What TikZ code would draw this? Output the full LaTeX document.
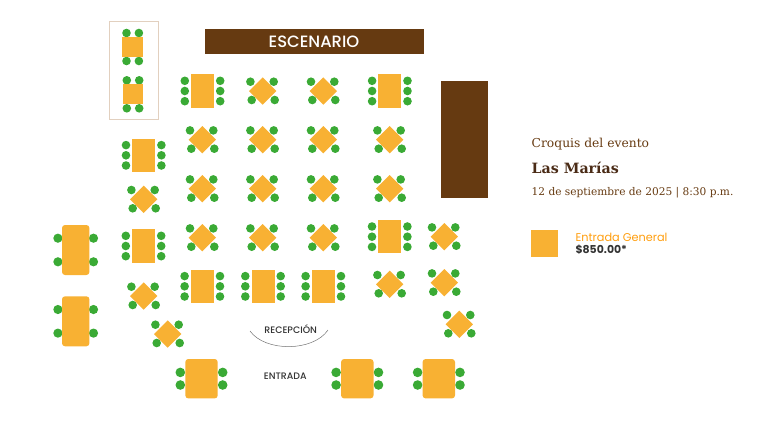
\documentclass[tikz,border=0pt]{standalone}
\usepackage{fontspec}
\setmainfont{DejaVu Serif}
\setsansfont{Poppins}
\newfontfamily\poppinsmedia{Poppins Medium}
\definecolor{cafe}{HTML}{663A11}
\definecolor{cafeoscuro}{HTML}{4A2B16}
\definecolor{mesacolor}{HTML}{F8B133}
\definecolor{sillacolor}{HTML}{3AAA35}
\definecolor{marco}{HTML}{E2D0BF}
\definecolor{naranja}{HTML}{FF9E0F}
\tikzset{
  mesa/.style={fill=mesacolor},
  silla/.style={fill=sillacolor},
  escenario/.style={fill=cafe},
  etiqueta/.style={font=\poppinsmedia\fontsize{9.4}{9.4}\selectfont, text=black!80},
  infotexto/.style={anchor=west, inner sep=0pt},
  pics/rombo/.style={code={
    \fill[silla] (-12.3,-9.3) circle (4.3);
    \fill[silla] (11,-9.3) circle (4.3);
    \fill[silla] (-11,9) circle (4.3);
    \fill[silla] (12,9) circle (4.3);
    \fill[mesa] (0,-13.7) -- (13.7,0) -- (0,13.7) -- (-13.7,0) -- cycle;
  }},
  pics/cuadro/.style={code={
    \fill[silla] (-6.2,-14) circle (4.3);
    \fill[silla] (6.2,-14) circle (4.3);
    \fill[silla] (-6.2,14) circle (4.3);
    \fill[silla] (6.2,14) circle (4.3);
    \fill[mesa] (-10.4,-10) rectangle (10.4,10);
  }},
  pics/seis/.style={code={
    \fill[silla] (-17.7,-10.2) circle (4.3);
    \fill[silla] (-17.7,0) circle (4.3);
    \fill[silla] (-17.7,10.2) circle (4.3);
    \fill[silla] (17.7,-10.2) circle (4.3);
    \fill[silla] (17.7,0) circle (4.3);
    \fill[silla] (17.7,10.2) circle (4.3);
    \fill[mesa] (-11.5,-16.7) rectangle (11.5,16.7);
  }},
  pics/larga/.style={code={
    \fill[silla] (-17.8,-11.8) circle (4.6);
    \fill[silla] (-17.8,11.8) circle (4.6);
    \fill[silla] (17.8,-11.8) circle (4.6);
    \fill[silla] (17.8,11.8) circle (4.6);
    \fill[mesa, rounded corners=3] (-13.7,-25) rectangle (13.7,25);
  }},
  pics/ancha/.style={code={
    \fill[silla] (-21.2,-6.3) circle (4.8);
    \fill[silla] (-21.2,6.3) circle (4.8);
    \fill[silla] (21.2,-6.3) circle (4.8);
    \fill[silla] (21.2,6.3) circle (4.8);
    \fill[mesa, rounded corners=3] (-16.2,-19.7) rectangle (16.2,19.7);
  }},
}
\begin{document}
\begin{tikzpicture}[x=1pt,y=-1pt]
\useasboundingbox (0,0) rectangle (763,424);

\draw[marco, line width=0.9] (109.3,21.9) rectangle (158,119.3);
\pic at (132.7,47) {cuadro};
\pic at (133,94.3) {cuadro};

\fill[escenario] (204.7,29) rectangle (423.7,54.3);
\fill[escenario] (441,81.3) rectangle (487.7,198.3);
\node[font=\poppinsmedia\fontsize{16.4}{16.4}\selectfont, text=white] (escena) at (314,41.7) {ESCENARIO};

\pic at (202.5,91) {seis};
\pic at (262.7,91) {rombo};
\pic at (323.3,91) {rombo};
\pic at (389.8,91) {seis};

\pic at (143.7,155.3) {seis};
\pic at (202.3,139.7) {rombo};
\pic at (262.7,139.7) {rombo};
\pic at (323.3,139.7) {rombo};
\pic at (389.7,139.7) {rombo};

\pic at (143.7,199.3) {rombo};
\pic at (202.3,188.7) {rombo};
\pic at (262.7,188.7) {rombo};
\pic at (323.3,188.7) {rombo};
\pic at (389.7,188.7) {rombo};

\pic at (75.7,250) {larga};
\pic at (143.5,246) {seis};
\pic at (202.3,237.7) {rombo};
\pic at (262.7,237.7) {rombo};
\pic at (323.3,237.7) {rombo};
\pic at (389.7,236.7) {seis};
\pic at (444.3,236.7) {rombo};

\pic at (202.3,286.3) {seis};
\pic at (263,286.3) {seis};
\pic at (323.3,286.3) {seis};
\pic at (389.7,284.3) {rombo};
\pic at (444.3,282.7) {rombo};

\pic at (75.7,321.3) {larga};
\pic at (143.7,296) {rombo};
\pic at (167.7,334) {rombo};
\pic at (459.3,324.3) {rombo};

\pic at (201.5,378.7) {ancha};
\pic at (357.3,378.7) {ancha};
\pic at (438.8,378.7) {ancha};

\node[etiqueta] (recepcion) at (290.7,329) {RECEPCIÓN};
\node[etiqueta] (entrada) at (285.3,376) {ENTRADA};
\coordinate (arcoizq) at (250,331);
\coordinate (arcoder) at (328,330);
\draw[black!55, line width=0.5] (arcoizq) .. controls (265,352) and (313,352) .. (arcoder);

\node[infotexto, text=cafe, font=\fontsize{12.3}{12.3}\selectfont] (croquis) at (531.5,144.5) {Croquis del evento};
\node[infotexto, text=cafeoscuro, font=\bfseries\fontsize{14.2}{14.2}\selectfont] (evento) at (531.5,168) {Las Marías};
\node[infotexto, text=cafe, font=\fontsize{10.6}{10.6}\selectfont] (fecha) at (531.5,192.3) {12 de septiembre de 2025 | 8:30 p.m.};

\fill[mesa] (531.3,230.3) rectangle (557.7,256.7);
\node[infotexto, text=naranja, font=\sffamily\fontsize{11.3}{11.3}\selectfont] (entradageneral) at (575.3,237) {Entrada General};
\node[infotexto, text=black!80, font=\sffamily\bfseries\fontsize{10.9}{10.9}\selectfont] (precio) at (575.3,250) {\$850.00*};
\end{tikzpicture}
\end{document}
